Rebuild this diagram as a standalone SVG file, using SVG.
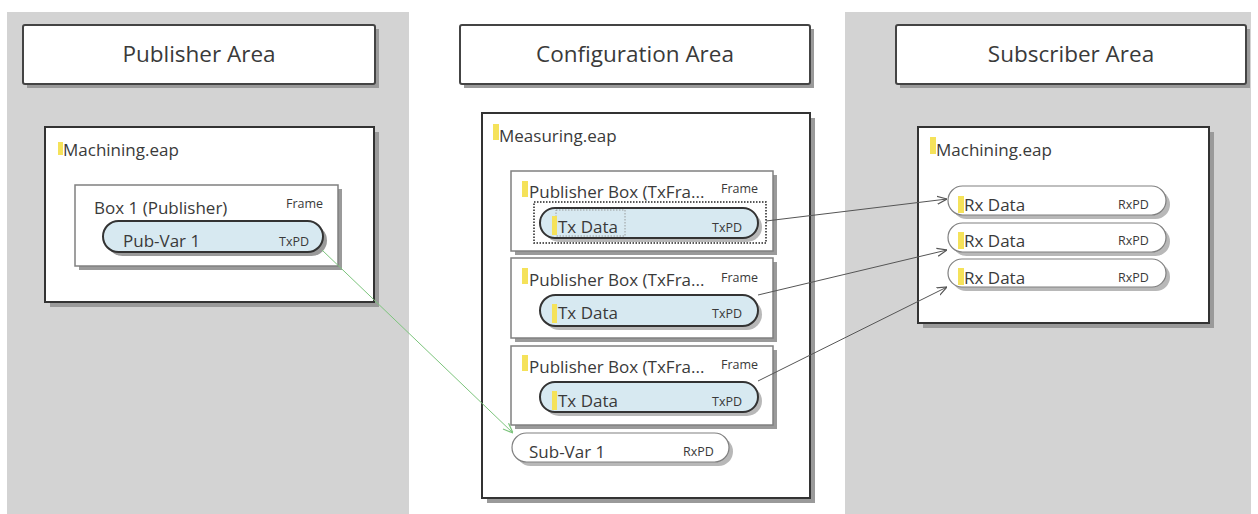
<svg xmlns="http://www.w3.org/2000/svg" width="1258" height="514" viewBox="0 0 1258 514">
<defs>
<style>
.panel{fill:#d3d3d3}
.sh{fill:#9a9a9a}
.shl{fill:#b8b8b8}
.title{fill:#fff;stroke:#444;stroke-width:2}
.outer{fill:#fff;stroke:#333;stroke-width:2}
.box{fill:#fff;stroke:#808080;stroke-width:1.5}
.pub{fill:#d7e9f1;stroke:#333;stroke-width:2}
.rx{fill:#fff;stroke:#808080;stroke-width:1.2}
.mark{fill:#f5e25a}
text{font-family:"Open Sans","Noto Sans",sans-serif;fill:#3a3a3a}
.t1{font-size:22.5px;text-anchor:middle}
.t2{font-size:17px}
.t3{font-size:12.5px}
.conn{fill:none;stroke:#555;stroke-width:1}
.green{fill:none;stroke:#7cc47c;stroke-width:1}
</style>
<marker id="arr" viewBox="0 0 10 10" refX="10" refY="5" markerWidth="10" markerHeight="10" markerUnits="userSpaceOnUse" orient="auto">
<path d="M0,1 L10,5 L0,9" fill="none" stroke="#555" stroke-width="1.2"/>
</marker>
<marker id="arrg" viewBox="0 0 10 10" refX="10" refY="5" markerWidth="10" markerHeight="10" markerUnits="userSpaceOnUse" orient="auto">
<path d="M0,1 L10,5 L0,9" fill="none" stroke="#7cc47c" stroke-width="1.2"/>
</marker>
</defs>
<rect width="1258" height="514" fill="#fff"/>
<rect class="panel" x="7" y="12" width="402" height="502"/>
<rect class="panel" x="845" y="12" width="406" height="502"/>

<g id="publisher-area">
<rect class="sh" x="27" y="29" width="352" height="59"/>
<rect class="title" x="23" y="25" width="352" height="59" rx="2"/>
<text class="t1" x="199" y="62">Publisher Area</text>
</g>
<g id="configuration-area">
<rect class="sh" x="464" y="29" width="350" height="59"/>
<rect class="title" x="460" y="25" width="350" height="59" rx="2"/>
<text class="t1" x="635" y="62">Configuration Area</text>
</g>
<g id="subscriber-area">
<rect class="sh" x="900" y="29" width="350" height="59"/>
<rect class="title" x="896" y="25" width="350" height="59" rx="2"/>
<text class="t1" x="1071" y="62">Subscriber Area</text>
</g>

<g id="pub-machining">
<rect class="sh" x="50" y="132" width="329" height="175"/>
<rect class="outer" x="45" y="127" width="329" height="175"/>
<rect class="mark" x="58" y="142" width="5" height="13"/>
<text class="t2" x="63" y="156">Machining.eap</text>
</g>
<g id="box1">
<rect class="sh" x="79" y="189" width="263" height="81"/>
<rect class="box" x="75" y="185" width="263" height="81"/>
<text class="t2" x="94" y="214">Box 1 (Publisher)</text>
<text class="t3" x="286" y="208">Frame</text>
</g>
<g id="pub-var1">
<rect class="sh" x="107" y="225" width="220" height="31" rx="15.5"/>
<rect class="pub" x="103" y="221" width="220" height="31" rx="15.5"/>
<text class="t2" x="123" y="247">Pub-Var 1</text>
<text class="t3" x="279" y="246">TxPD</text>
</g>

<g id="measuring">
<rect class="sh" x="487" y="118" width="328" height="385"/>
<rect class="outer" x="482" y="113" width="328" height="385"/>
<rect class="mark" x="493" y="124" width="6" height="16"/>
<text class="t2" x="499" y="142">Measuring.eap</text>
</g>
<g id="pubbox1">
<rect class="sh" x="515" y="175" width="262" height="80"/>
<rect class="box" x="511" y="171" width="262" height="80"/>
<rect class="mark" x="522" y="181" width="6" height="16"/>
<text class="t2" x="529" y="198">Publisher Box (TxFra...</text>
<text class="t3" x="721" y="193">Frame</text>
<rect class="shl" x="544" y="212" width="218" height="30" rx="15"/>
<rect x="534" y="202" width="232" height="41" fill="none" stroke="#222" stroke-width="1.5" stroke-dasharray="1.5,1.5"/>
<rect class="pub" x="540" y="208" width="218" height="30" rx="15"/>
<rect x="556" y="210" width="69" height="26" fill="none" stroke="#888" stroke-width="0.8" stroke-dasharray="1.5,1.5"/>
<rect class="mark" x="552" y="216" width="5" height="19"/>
<text class="t2" x="558" y="233">Tx Data</text>
<text class="t3" x="712" y="232">TxPD</text>
</g>
<g id="pubbox2">
<rect class="sh" x="515" y="262" width="262" height="80"/>
<rect class="box" x="511" y="258" width="262" height="80"/>
<rect class="mark" x="522" y="268" width="6" height="16"/>
<text class="t2" x="529" y="286">Publisher Box (TxFra...</text>
<text class="t3" x="721" y="282">Frame</text>
<rect class="shl" x="544" y="299" width="218" height="31" rx="15.5"/>
<rect class="pub" x="540" y="295" width="218" height="31" rx="15.5"/>
<rect class="mark" x="552" y="304" width="5" height="19"/>
<text class="t2" x="558" y="319">Tx Data</text>
<text class="t3" x="712" y="318">TxPD</text>
</g>
<g id="pubbox3">
<rect class="sh" x="515" y="350" width="262" height="79"/>
<rect class="box" x="511" y="346" width="262" height="79"/>
<rect class="mark" x="522" y="355" width="6" height="16"/>
<text class="t2" x="529" y="373">Publisher Box (TxFra...</text>
<text class="t3" x="721" y="369">Frame</text>
<rect class="shl" x="544" y="386" width="218" height="30" rx="15"/>
<rect class="pub" x="540" y="382" width="218" height="30" rx="15"/>
<rect class="mark" x="552" y="391" width="5" height="19"/>
<text class="t2" x="558" y="407">Tx Data</text>
<text class="t3" x="712" y="406">TxPD</text>
</g>
<g id="sub-var1">
<rect class="shl" x="516" y="437" width="217" height="29" rx="14.5"/>
<rect class="rx" x="512" y="433" width="217" height="29" rx="14.5"/>
<text class="t2" x="529" y="458">Sub-Var 1</text>
<text class="t3" x="683" y="456">RxPD</text>
</g>

<g id="sub-machining">
<rect class="sh" x="923" y="132" width="291" height="196"/>
<rect class="outer" x="918" y="127" width="291" height="196"/>
<rect class="mark" x="930" y="137" width="6" height="17"/>
<text class="t2" x="936" y="156">Machining.eap</text>
</g>
<g id="rx1">
<rect class="shl" x="952" y="190" width="218" height="29" rx="14.5"/>
<rect class="rx" x="948" y="186" width="218" height="29" rx="14.5"/>
<rect class="mark" x="958" y="196" width="6" height="17"/>
<text class="t2" x="964" y="211">Rx Data</text>
<text class="t3" x="1118" y="209">RxPD</text>
</g>
<g id="rx2">
<rect class="shl" x="952" y="227" width="218" height="29" rx="14.5"/>
<rect class="rx" x="948" y="223" width="218" height="29" rx="14.5"/>
<rect class="mark" x="958" y="232" width="6" height="17"/>
<text class="t2" x="964" y="247">Rx Data</text>
<text class="t3" x="1118" y="245">RxPD</text>
</g>
<g id="rx3">
<rect class="shl" x="952" y="263" width="218" height="28" rx="14"/>
<rect class="rx" x="948" y="259" width="218" height="28" rx="14"/>
<rect class="mark" x="958" y="268" width="6" height="17"/>
<text class="t2" x="964" y="284">Rx Data</text>
<text class="t3" x="1118" y="282">RxPD</text>
</g>

<g id="connectors">
<line class="conn" x1="766" y1="221" x2="947" y2="199" marker-end="url(#arr)"/>
<line class="conn" x1="758" y1="295" x2="947" y2="250" marker-end="url(#arr)"/>
<line class="conn" x1="758" y1="381" x2="947" y2="287" marker-end="url(#arr)"/>
<line class="green" x1="322" y1="250" x2="513" y2="433" marker-end="url(#arrg)"/>
</g>
</svg>
